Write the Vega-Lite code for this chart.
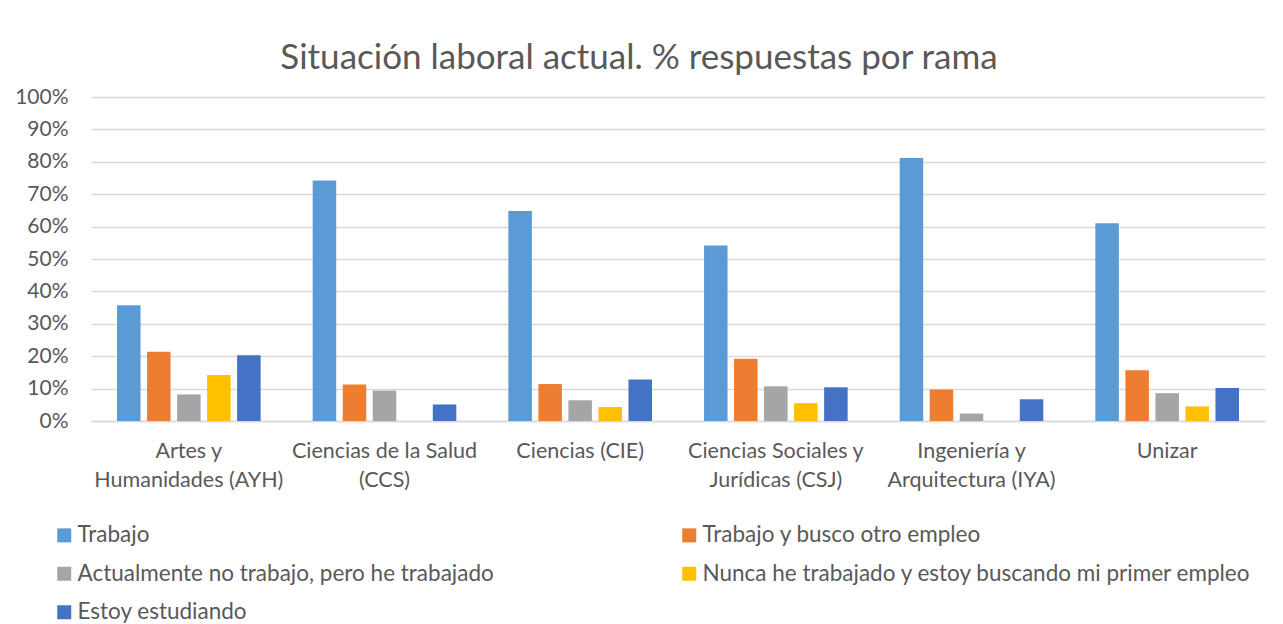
{
  "$schema": "https://vega.github.io/schema/vega-lite/v6.json",
  "autosize": {"type": "none"},
  "padding": {"left": 91, "top": 97, "right": 18, "bottom": 203},
  "width": 1174,
  "height": 324,
  "background": "white",
  "title": {
    "text": "Situación laboral actual. % respuestas por rama",
    "font": "Lato",
    "fontSize": 35,
    "fontWeight": "normal",
    "color": "#595959",
    "anchor": "middle",
    "dx": -39,
    "offset": 10
  },
  "data": {
    "values": [
      {"rama": "Artes y Humanidades (AYH)", "situacion": "Trabajo", "orden": 1, "valor": 0.357},
      {"rama": "Artes y Humanidades (AYH)", "situacion": "Trabajo y busco otro empleo", "orden": 2, "valor": 0.214},
      {"rama": "Artes y Humanidades (AYH)", "situacion": "Actualmente no trabajo, pero he trabajado", "orden": 3, "valor": 0.082},
      {"rama": "Artes y Humanidades (AYH)", "situacion": "Nunca he trabajado y estoy buscando mi primer empleo", "orden": 4, "valor": 0.142},
      {"rama": "Artes y Humanidades (AYH)", "situacion": "Estoy estudiando", "orden": 5, "valor": 0.203},
      {"rama": "Ciencias de la Salud (CCS)", "situacion": "Trabajo", "orden": 1, "valor": 0.742},
      {"rama": "Ciencias de la Salud (CCS)", "situacion": "Trabajo y busco otro empleo", "orden": 2, "valor": 0.113},
      {"rama": "Ciencias de la Salud (CCS)", "situacion": "Actualmente no trabajo, pero he trabajado", "orden": 3, "valor": 0.094},
      {"rama": "Ciencias de la Salud (CCS)", "situacion": "Nunca he trabajado y estoy buscando mi primer empleo", "orden": 4, "valor": 0},
      {"rama": "Ciencias de la Salud (CCS)", "situacion": "Estoy estudiando", "orden": 5, "valor": 0.051},
      {"rama": "Ciencias (CIE)", "situacion": "Trabajo", "orden": 1, "valor": 0.648},
      {"rama": "Ciencias (CIE)", "situacion": "Trabajo y busco otro empleo", "orden": 2, "valor": 0.114},
      {"rama": "Ciencias (CIE)", "situacion": "Actualmente no trabajo, pero he trabajado", "orden": 3, "valor": 0.064},
      {"rama": "Ciencias (CIE)", "situacion": "Nunca he trabajado y estoy buscando mi primer empleo", "orden": 4, "valor": 0.043},
      {"rama": "Ciencias (CIE)", "situacion": "Estoy estudiando", "orden": 5, "valor": 0.128},
      {"rama": "Ciencias Sociales y Jurídicas (CSJ)", "situacion": "Trabajo", "orden": 1, "valor": 0.542},
      {"rama": "Ciencias Sociales y Jurídicas (CSJ)", "situacion": "Trabajo y busco otro empleo", "orden": 2, "valor": 0.192},
      {"rama": "Ciencias Sociales y Jurídicas (CSJ)", "situacion": "Actualmente no trabajo, pero he trabajado", "orden": 3, "valor": 0.107},
      {"rama": "Ciencias Sociales y Jurídicas (CSJ)", "situacion": "Nunca he trabajado y estoy buscando mi primer empleo", "orden": 4, "valor": 0.055},
      {"rama": "Ciencias Sociales y Jurídicas (CSJ)", "situacion": "Estoy estudiando", "orden": 5, "valor": 0.104},
      {"rama": "Ingeniería y Arquitectura (IYA)", "situacion": "Trabajo", "orden": 1, "valor": 0.812},
      {"rama": "Ingeniería y Arquitectura (IYA)", "situacion": "Trabajo y busco otro empleo", "orden": 2, "valor": 0.097},
      {"rama": "Ingeniería y Arquitectura (IYA)", "situacion": "Actualmente no trabajo, pero he trabajado", "orden": 3, "valor": 0.023},
      {"rama": "Ingeniería y Arquitectura (IYA)", "situacion": "Nunca he trabajado y estoy buscando mi primer empleo", "orden": 4, "valor": 0},
      {"rama": "Ingeniería y Arquitectura (IYA)", "situacion": "Estoy estudiando", "orden": 5, "valor": 0.067},
      {"rama": "Unizar", "situacion": "Trabajo", "orden": 1, "valor": 0.610},
      {"rama": "Unizar", "situacion": "Trabajo y busco otro empleo", "orden": 2, "valor": 0.157},
      {"rama": "Unizar", "situacion": "Actualmente no trabajo, pero he trabajado", "orden": 3, "valor": 0.086},
      {"rama": "Unizar", "situacion": "Nunca he trabajado y estoy buscando mi primer empleo", "orden": 4, "valor": 0.045},
      {"rama": "Unizar", "situacion": "Estoy estudiando", "orden": 5, "valor": 0.102}
    ]
  },
  "mark": {"type": "bar"},
  "encoding": {
    "x": {
      "field": "rama",
      "type": "nominal",
      "sort": null,
      "scale": {"paddingInner": 0.266, "paddingOuter": 0.133},
      "axis": {
        "title": null,
        "labelAngle": 0,
        "labelFont": "Lato",
        "labelFontSize": 21.5,
        "labelColor": "#595959",
        "labelPadding": 19,
        "labelLineHeight": 29,
        "labelBaseline": "top",
        "labelLimit": 300,
        "ticks": false,
        "domainColor": "#D9D9D9",
        "domainWidth": 1.5,
        "labelExpr": "datum.value == 'Artes y Humanidades (AYH)' ? ['Artes y', 'Humanidades (AYH)'] : datum.value == 'Ciencias de la Salud (CCS)' ? ['Ciencias de la Salud', '(CCS)'] : datum.value == 'Ciencias Sociales y Jurídicas (CSJ)' ? ['Ciencias Sociales y', 'Jurídicas (CSJ)'] : datum.value == 'Ingeniería y Arquitectura (IYA)' ? ['Ingeniería y', 'Arquitectura (IYA)'] : datum.value"
      }
    },
    "xOffset": {
      "field": "situacion",
      "type": "nominal",
      "sort": {"field": "orden"},
      "scale": {"paddingInner": 0.217, "paddingOuter": 0}
    },
    "y": {
      "field": "valor",
      "type": "quantitative",
      "scale": {"domain": [0, 1]},
      "axis": {
        "title": null,
        "format": ".0%",
        "values": [0, 0.1, 0.2, 0.3, 0.4, 0.5, 0.6, 0.7, 0.8, 0.9, 1],
        "labelOverlap": false,
        "labelFont": "Lato",
        "labelFontSize": 21,
        "labelColor": "#595959",
        "labelPadding": 23,
        "ticks": false,
        "domain": false,
        "gridColor": "#D9D9D9",
        "gridWidth": 1.5
      }
    },
    "color": {
      "field": "situacion",
      "type": "nominal",
      "scale": {
        "domain": ["Trabajo", "Actualmente no trabajo, pero he trabajado", "Estoy estudiando", "Trabajo y busco otro empleo", "Nunca he trabajado y estoy buscando mi primer empleo"],
        "range": ["#5B9BD5", "#A5A5A5", "#4472C4", "#ED7D31", "#FFC000"]
      },
      "legend": {
        "title": null,
        "orient": "none",
        "legendX": -38,
        "legendY": 427,
        "columns": 2,
        "columnPadding": 184,
        "rowPadding": 15.5,
        "symbolType": "square",
        "symbolSize": 196,
        "symbolStrokeWidth": 0,
        "labelFont": "Lato",
        "labelFontSize": 22.5,
        "labelColor": "#595959",
        "labelOffset": 2,
        "labelLimit": 700
      }
    }
  },
  "config": {
    "view": {"stroke": null}
  }
}
